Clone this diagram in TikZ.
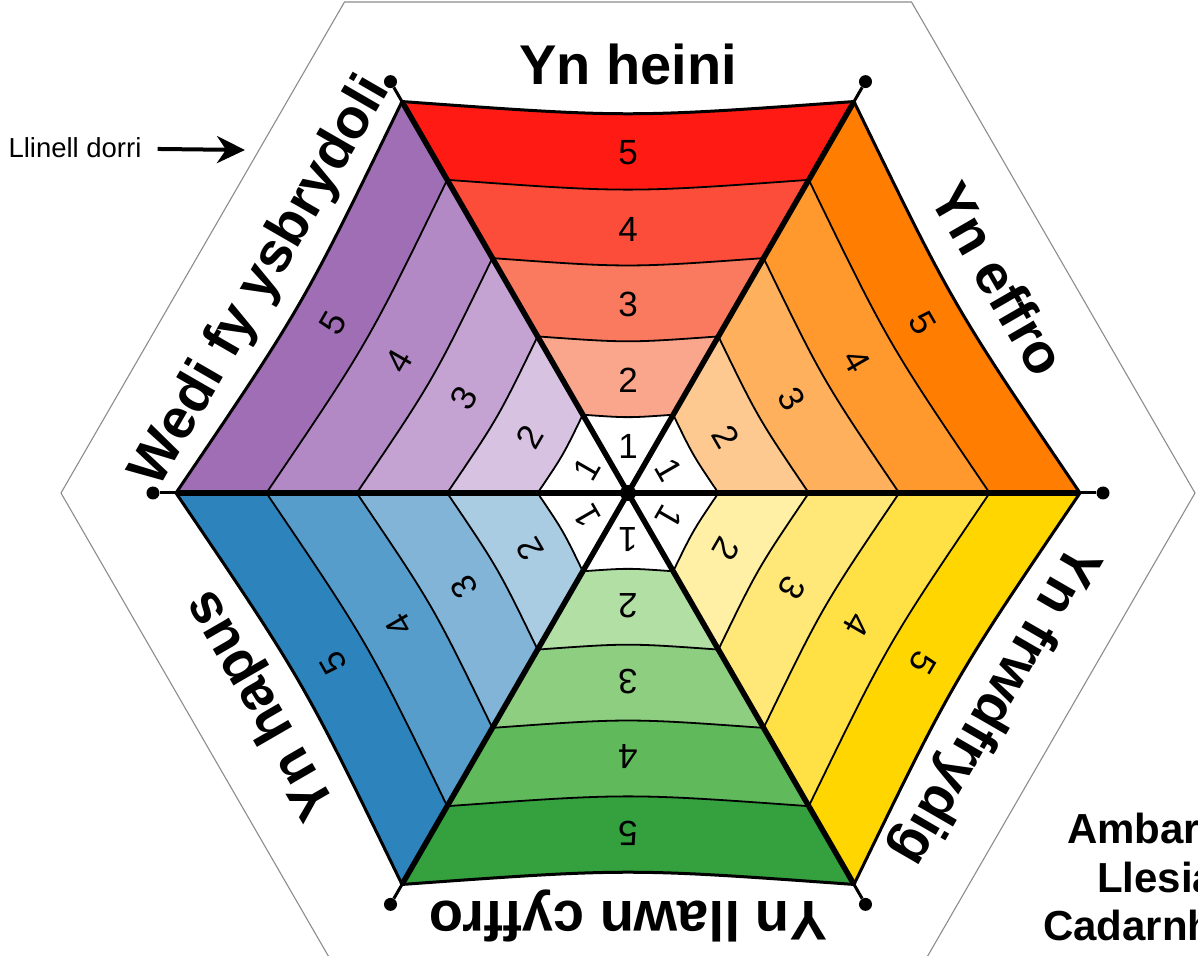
\documentclass[tikz,border=0pt]{standalone}
\usepackage{fontspec}
\setmainfont{Liberation Sans}
\usepackage{xcolor}
\usepackage{tikz}
\usetikzlibrary{arrows.meta}
\def\R{452}
\def\tipR{475}
\def\cutR{567}
% colours of the six sectors, band 1 is always white
\definecolor{heini5}{RGB}{255,27,20}
\definecolor{heini4}{RGB}{252,76,58}
\definecolor{heini3}{RGB}{250,122,96}
\definecolor{heini2}{RGB}{250,166,140}
\definecolor{effro5}{RGB}{255,125,0}
\definecolor{effro4}{RGB}{255,152,45}
\definecolor{effro3}{RGB}{254,176,92}
\definecolor{effro2}{RGB}{253,201,145}
\definecolor{frwd5}{RGB}{255,214,0}
\definecolor{frwd4}{RGB}{255,225,70}
\definecolor{frwd3}{RGB}{255,232,120}
\definecolor{frwd2}{RGB}{255,240,165}
\definecolor{cyffro5}{RGB}{52,160,62}
\definecolor{cyffro4}{RGB}{96,186,92}
\definecolor{cyffro3}{RGB}{142,206,128}
\definecolor{cyffro2}{RGB}{178,223,164}
\definecolor{hapus5}{RGB}{45,131,188}
\definecolor{hapus4}{RGB}{86,157,203}
\definecolor{hapus3}{RGB}{130,180,215}
\definecolor{hapus2}{RGB}{170,204,227}
\definecolor{ysbryd5}{RGB}{160,110,180}
\definecolor{ysbryd4}{RGB}{178,137,196}
\definecolor{ysbryd3}{RGB}{196,163,210}
\definecolor{ysbryd2}{RGB}{216,194,225}
\colorlet{heini1}{white}
\colorlet{effro1}{white}
\colorlet{frwd1}{white}
\colorlet{cyffro1}{white}
\colorlet{hapus1}{white}
\colorlet{ysbryd1}{white}
\tikzset{bandline/.style={draw=black, line width=1.8pt},
    rimline/.style={draw=black, line width=3pt},
    spokeline/.style={draw=black, line width=5.5pt},
    stubline/.style={draw=black, line width=3pt},
    tipdot/.style={circle, fill=black, inner sep=0pt, minimum size=13pt},
    digitlabel/.style={font=\fontsize{35}{35}\selectfont, inner sep=0pt},
    sidelabel/.style={font=\fontsize{56}{56}\selectfont\bfseries, inner sep=0pt, anchor=base},
    cutedge/.style={draw=black!45, line width=1.1pt},
    notelabel/.style={font=\fontsize{27.5}{27.5}\selectfont, inner sep=0pt},
    cutarrow/.style={draw=black, line width=4pt, -{Stealth[length=28pt, width=27pt, inset=9pt]}},
    headlabel/.style={font=\fontsize{42}{42}\selectfont\bfseries, inner sep=0pt, anchor=base west}}

\begin{document}
\begin{tikzpicture}[x=1pt, y=1pt]
    \useasboundingbox (-628,-462) rectangle (570,493);
    \clip (-628,-462) rectangle (570,493);
    % cutting line
    \draw[cutedge] (0:\cutR) -- (60:\cutR) -- (120:\cutR) -- (180:\cutR)
                   -- (240:\cutR) -- (300:\cutR) -- cycle;
    \coordinate (O) at (0,0);
    % the six sectors
    \foreach \a/\sec/\lab in {60/heini/Yn heini, 0/effro/Yn effro,
            -60/frwd/Yn frwdfrydig, -120/cyffro/Yn llawn cyffro,
            180/hapus/Yn hapus, 120/ysbryd/Wedi fy ysbrydoli}{
        \foreach \i in {1,...,5}{
            \pgfmathsetmacro\ri{(\i-1)*0.2*\R}
            \pgfmathsetmacro\ro{\i*0.2*\R}
            \fill[\sec\i] (\a:\ro) .. controls (\a+30:0.83*\ro) .. (\a+60:\ro)
                -- (\a+60:\ri) .. controls (\a+30:0.83*\ri) .. (\a:\ri) -- cycle;
        }
        \foreach \i in {1,...,4}{
            \pgfmathsetmacro\ro{\i*0.2*\R}
            \draw[bandline] (\a:\ro) .. controls (\a+30:0.83*\ro) .. (\a+60:\ro);
        }
        \draw[rimline] (\a:\R) .. controls (\a+30:0.83*\R) .. (\a+60:\R);
        \foreach \i/\rd in {1/47, 2/113, 3/189, 4/264, 5/340}
            \node[digitlabel, rotate=\a-60] (n\sec\i) at (\a+30:\rd) {\i};
        \node[sidelabel, rotate=\a-60] (l\sec) at (\a+30:408) {\lab};
    }
    % spokes
    \foreach \a in {0,60,...,300}{
        \coordinate (v\a) at (\a:\R);
        \node[tipdot] (d\a) at (\a:\tipR) {};
        \draw[stubline] (v\a) -- (d\a);
        \draw[spokeline] (O) -- (v\a);
    }
    \node[tipdot, minimum size=16pt] (c) at (O) {};
    % cut line note
    \node[notelabel] (cut) at (-553,345) {Llinell dorri};
    \coordinate (cuttip) at (-383,343);
    \draw[cutarrow, shorten <=16pt] (cut) -- (cuttip);
    % title, cut off at the page edge
    \node[headlabel] (amb) at (439,-350) {Ambar};
    \node[headlabel] (lle) at (469,-399) {Llesia};
    \node[headlabel] (cad) at (415,-447) {Cadarnh};
\end{tikzpicture}
\end{document}
